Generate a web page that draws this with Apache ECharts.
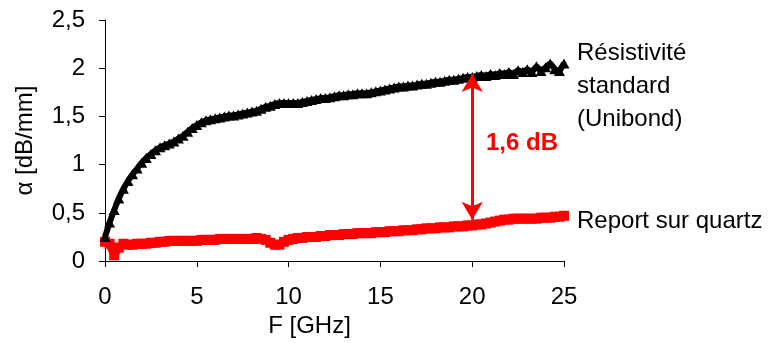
<!DOCTYPE html>
<html>
<head>
<meta charset="utf-8">
<script src="https://cdn.jsdelivr.net/npm/echarts@6/dist/echarts.min.js"></script>
<style>
html,body{margin:0;padding:0;background:#fff;}
#c{width:784px;height:343px;}
</style>
</head>
<body>
<div id="c"></div>
<script>
// Frequency (GHz), step 0.25
const freq = [];
for (let i = 0; i <= 100; i++) freq.push(i * 0.25);

// Résistivité standard (Unibond) - alpha dB/mm
const unibond = [
0.25,0.40,0.53,0.65,0.75,0.83,0.90,0.96,1.02,1.07,
1.11,1.15,1.18,1.20,1.22,1.24,1.27,1.30,1.34,1.38,
1.41,1.44,1.46,1.47,1.48,1.49,1.50,1.51,1.51,1.52,
1.53,1.54,1.55,1.56,1.58,1.60,1.61,1.63,1.64,1.64,
1.64,1.64,1.64,1.65,1.66,1.67,1.68,1.69,1.69,1.70,
1.71,1.72,1.72,1.73,1.73,1.74,1.74,1.74,1.75,1.76,
1.77,1.78,1.79,1.80,1.81,1.81,1.82,1.82,1.83,1.84,
1.84,1.85,1.86,1.86,1.87,1.88,1.88,1.89,1.90,1.91,
1.91,1.92,1.93,1.92,1.94,1.93,1.95,1.94,1.96,1.94,
1.98,1.96,1.99,1.96,2.02,1.97,2.01,2.05,1.99,1.97,
2.05
];

// Report sur quartz - alpha dB/mm
const quartz = [
0.20,0.18,0.06,0.14,0.18,0.17,0.17,0.18,0.18,0.18,
0.19,0.19,0.20,0.20,0.21,0.21,0.21,0.21,0.21,0.21,
0.21,0.22,0.22,0.22,0.22,0.23,0.23,0.23,0.23,0.23,
0.23,0.23,0.23,0.24,0.23,0.22,0.19,0.17,0.17,0.20,
0.22,0.23,0.24,0.24,0.25,0.25,0.25,0.26,0.26,0.27,
0.27,0.27,0.28,0.28,0.28,0.29,0.29,0.29,0.29,0.30,
0.30,0.30,0.31,0.31,0.31,0.32,0.32,0.32,0.33,0.33,
0.34,0.34,0.34,0.35,0.35,0.35,0.36,0.36,0.36,0.37,
0.37,0.38,0.38,0.39,0.40,0.41,0.42,0.43,0.43,0.44,
0.44,0.44,0.44,0.44,0.44,0.45,0.45,0.45,0.46,0.46,
0.47
];

// Annotation arrow (F, alpha)
const arrowF = 20;
const arrowLow = 0.43;
const arrowHigh = 1.94;

const FONT = '"Liberation Sans", Arial, sans-serif';
const FS = 24;

const chart = echarts.init(document.getElementById('c'));
chart.setOption({
  animation: false,
  backgroundColor: '#fff',
  grid: {left: 105, right: 220, top: 20, bottom: 78, containLabel: false},
  xAxis: {
    type: 'value', min: 0, max: 25, interval: 5,
    name: 'F [GHz]', nameLocation: 'middle', nameGap: 49,
    nameTextStyle: {fontFamily: FONT, fontSize: FS, color: '#000', padding: [0, 50, 0, 0]},
    axisLine: {show: true, onZero: false, lineStyle: {color: '#000', width: 1}},
    axisTick: {show: true, length: 6, lineStyle: {color: '#000'}},
    axisLabel: {fontFamily: FONT, fontSize: FS, color: '#000', margin: 24},
    splitLine: {show: false}
  },
  yAxis: {
    type: 'value', min: 0, max: 2.5, interval: 0.5,
    name: 'α [dB/mm]', nameLocation: 'middle', nameGap: 68, nameRotate: 90,
    nameTextStyle: {fontFamily: FONT, fontSize: FS, color: '#000'},
    axisLine: {show: true, lineStyle: {color: '#000', width: 1}},
    axisTick: {show: true, length: 6, lineStyle: {color: '#000'}},
    axisLabel: {fontFamily: FONT, fontSize: FS, color: '#000', margin: 20,
      formatter: v => String(v).replace('.', ',')},
    splitLine: {show: false}
  },
  series: [
    {
      name: 'Report sur quartz', type: 'line', z: 2,
      symbol: 'rect', symbolSize: 10, showAllSymbol: true,
      lineStyle: {color: '#ff0000', width: 8},
      itemStyle: {color: '#ff0000'},
      data: freq.map((f, i) => [f, quartz[i]])
    },
    {
      name: 'Résistivité standard (Unibond)', type: 'line', z: 3,
      symbol: 'triangle', symbolSize: [11, 10], showAllSymbol: true,
      lineStyle: {color: '#000', width: 6},
      itemStyle: {color: '#000'},
      data: freq.map((f, i) => [f, unibond[i]]),
      markLine: {
        silent: true, symbol: ['arrow', 'arrow'], symbolSize: [16, 18],
        lineStyle: {color: '#ff0000', width: 3, type: 'solid'},
        label: {show: false},
        data: [[{coord: [arrowF, arrowLow]}, {coord: [arrowF, arrowHigh]}]]
      }
    }
  ],
  graphic: [
    {type: 'text', left: 486, top: 131, style: {text: '1,6 dB', fill: '#ff0000', font: 'bold 24px ' + FONT}},
    {type: 'text', left: 577, top: 37, style: {text: 'Résistivité\nstandard\n(Unibond)', fill: '#000', font: '24px ' + FONT, lineHeight: 33}},
    {type: 'text', left: 577, top: 209, style: {text: 'Report sur quartz', fill: '#000', font: '24px ' + FONT}}
  ]
});
</script>
</body>
</html>
